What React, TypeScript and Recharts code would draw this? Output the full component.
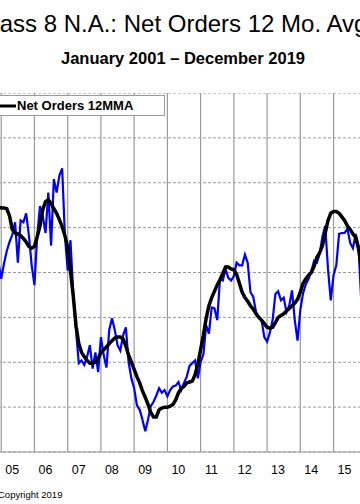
import { LineChart, Line, XAxis, YAxis, CartesianGrid, ReferenceLine, Legend } from 'recharts';

// monthly series start in August 2004 (month index 7)
const START_YEAR = 2004;
const START_MONTH = 7;

// Class 8 N.A. net orders, thousand units per month
const netOrders = [
  26.3, 27.4, 25.2, 23.6, 21.1, // 2004 Aug-Dec
  19.3, 21.0, 22.4, 23.4, 24.2, 25.6, 21.1, 25.8, 25.6, 26.6, 24.1, 20.8, // 2005
  18.6, 24.1, 27.4, 26.3, 24.4, 28.9, 23.0, 30.4, 28.9, 30.8, 31.6, 24.1, // 2006
  20.2, 23.6, 17.7, 13.6, 9.9, 10.2, 9.7, 10.6, 11.9, 9.3, 11.1, 8.9, // 2007
  12.8, 10.8, 9.4, 13.6, 14.9, 13.6, 11.9, 11.3, 13.0, 13.9, 10.0, 8.2, // 2008
  7.1, 5.2, 4.7, 3.6, 2.3, 3.6, 5.1, 5.6, 6.3, 7.1, 6.6, 6.9, // 2009
  6.2, 6.9, 7.3, 7.4, 7.8, 6.9, 7.7, 8.4, 9.6, 9.9, 10.2, 8.2, // 2010
  10.0, 10.9, 14.1, 13.2, 16.1, 16.0, 14.7, 19.3, 19.1, 20.4, 19.4, 19.1, // 2011
  19.6, 21.1, 20.8, 20.8, 22.0, 21.1, 17.8, 17.3, 15.6, 15.0, 14.7, 12.8, // 2012
  12.3, 13.3, 14.7, 17.6, 17.9, 16.9, 17.2, 15.6, 16.3, 18.0, 14.7, 12.4, // 2013
  15.8, 17.7, 18.7, 19.3, 20.2, 21.3, 21.1, 22.1, 24.0, 25.2, 20.4, 16.9, // 2014
  19.7, 20.8, 24.3, 24.4, 24.4, 24.9, 23.3, 22.7, 24.3, 23.0, 16.9, 15.8, // 2015
];

// 12 month moving average
const netOrders12mma = [
  26.7, 27.0, 27.2, 27.3, 27.3,
  27.2, 27.2, 27.1, 26.3, 24.8, 24.4, 24.3, 24.1, 23.8, 23.4, 22.9, 22.7,
  22.9, 24.0, 25.2, 27.0, 27.9, 28.1, 27.7, 27.1, 26.6, 25.9, 25.1, 24.1,
  22.8, 20.2, 17.4, 14.1, 12.1, 11.1, 10.6, 10.2, 9.9, 9.9, 10.0, 10.4,
  11.1, 11.4, 11.7, 12.1, 12.4, 12.7, 12.8, 12.8, 12.6, 11.8, 10.8, 10.0,
  9.2, 8.4, 7.7, 6.8, 6.1, 5.3, 4.4, 3.9, 3.9, 4.7, 4.9, 5.0,
  5.0, 5.1, 5.3, 5.8, 6.6, 7.1, 7.3, 7.7, 7.8, 7.9, 8.6, 9.8,
  11.4, 13.0, 14.9, 16.3, 17.2, 17.9, 18.6, 19.2, 19.9, 20.6, 20.6, 20.4,
  20.3, 19.8, 18.8, 17.8, 17.2, 16.8, 16.3, 15.9, 15.4, 15.0, 14.7, 14.3,
  13.9, 13.8, 13.9, 14.4, 15.0, 15.2, 15.4, 15.7, 16.0, 16.3, 16.6, 17.0,
  17.8, 18.8, 19.3, 19.7, 20.0, 20.7, 21.7, 22.2, 23.0, 24.4, 25.8, 26.6,
  26.8, 26.8, 26.6, 26.2, 25.8, 25.2, 24.8, 24.3, 23.9, 22.7, 20.8, 19.1,
];

// year boundaries drawn as vertical grid lines, labelled years
const years = [2004, 2005, 2006, 2007, 2008, 2009, 2010, 2011, 2012, 2013, 2014, 2015, 2016];
const labelYears = [2005, 2006, 2007, 2008, 2009, 2010, 2011, 2012, 2013, 2014, 2015];
const yTicks = [0, 5, 10, 15, 20, 25, 30, 35, 40];

const data = netOrders.map((v, i) => ({
  t: START_YEAR + (START_MONTH + i) / 12,
  orders: v,
  mma: netOrders12mma[i],
}));

const FONT = '"Liberation Sans", Arial, sans-serif';

const LegendBox = ({ payload }: any) => (
  <div
    style={{
      boxSizing: 'border-box',
      width: 177,
      height: 21,
      border: '1px solid #9a9a9a',
      background: '#fff',
      display: 'flex',
      alignItems: 'center',
      paddingLeft: 5,
      fontFamily: FONT,
      whiteSpace: 'nowrap',
    }}
  >
    {(payload || [])
      .filter((entry: any) => entry.type !== 'none' && entry.dataKey === 'mma')
      .map((entry: any) => (
        <span key={entry.value} style={{ display: 'flex', alignItems: 'center' }}>
          <svg width={22} height={4}>
            <line x1={0} y1={2} x2={22} y2={2} stroke={entry.color} strokeWidth={3} />
          </svg>
          <span style={{ fontWeight: 'bold', fontSize: 13, lineHeight: '13px', marginLeft: 1, color: '#000' }}>
            {entry.value}
          </span>
        </span>
      ))}
  </div>
);

export default function App() {
  return (
    <div
      style={{
        position: 'fixed',
        left: 0,
        top: 0,
        width: 360,
        height: 504,
        overflow: 'hidden',
        background: '#fff',
        fontFamily: FONT,
      }}
    >
      <div
        style={{
          position: 'absolute',
          left: -23,
          top: 12,
          fontSize: 24,
          lineHeight: '24px',
          whiteSpace: 'nowrap',
          color: '#000',
        }}
      >
        Class 8 N.A.: Net Orders 12 Mo. Avg.
      </div>
      <div
        style={{
          position: 'absolute',
          left: 33,
          width: 300,
          top: 50,
          fontSize: 16.5,
          lineHeight: '16px',
          fontWeight: 'bold',
          textAlign: 'center',
          whiteSpace: 'nowrap',
          color: '#000',
        }}
      >
        January 2001 – December 2019
      </div>

      <div style={{ position: 'absolute', left: -32, top: 93 }}>
        <LineChart width={432} height={389} data={data} margin={{ top: 0, right: 0, bottom: 0, left: 0 }}>
          <CartesianGrid vertical={false} stroke="#9a9a9a" strokeDasharray="3 2" />
          {years.map((y) => (
            <ReferenceLine key={y} x={y} stroke="#9a9a9a" strokeWidth={1.2} />
          ))}
          <XAxis
            dataKey="t"
            type="number"
            domain={[2004, 2017]}
            ticks={labelYears.map((y) => y + 0.33)}
            interval={0}
            tickFormatter={(v: number) => String(Math.floor(v)).slice(-2)}
            tickLine={false}
            tickSize={6}
            tickMargin={7}
            axisLine={{ stroke: '#9a9a9a' }}
            tick={{ fill: '#000', fontSize: 12.5, fontFamily: FONT }}
            height={30}
          />
          <YAxis hide domain={[0, 40]} ticks={yTicks} />
          <Legend
            layout="horizontal"
            verticalAlign="middle"
            align="center"
            wrapperStyle={{ left: 20, top: 2, width: 177, height: 21 }}
            content={<LegendBox />}
          />
          <Line
            type="linear"
            dataKey="orders"
            name="Net Orders"
            stroke="#0000ff"
            strokeWidth={2.2}
            dot={false}
            legendType="none"
            isAnimationActive={false}
          />
          <Line
            type="linear"
            dataKey="mma"
            name="Net Orders 12MMA"
            stroke="#000000"
            strokeWidth={3.5}
            dot={false}
            isAnimationActive={false}
          />
        </LineChart>
      </div>

      <div
        style={{
          position: 'absolute',
          left: -2,
          top: 490,
          fontSize: 9.5,
          lineHeight: '9px',
          whiteSpace: 'nowrap',
          color: '#000',
        }}
      >
        Copyright 2019
      </div>
    </div>
  );
}
